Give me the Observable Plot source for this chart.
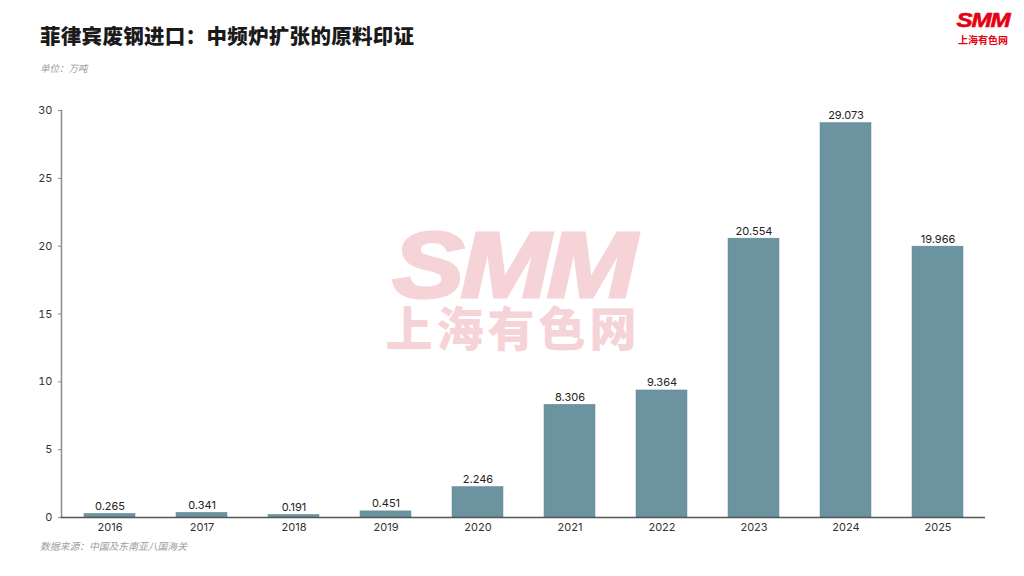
<!DOCTYPE html>
<html>
<head>
<meta charset="utf-8">
<script src="https://cdn.jsdelivr.net/npm/d3@7"></script>
<script src="https://cdn.jsdelivr.net/npm/@observablehq/plot@0.6"></script>
<style>
  html, body { margin: 0; padding: 0; background: #fff; }
  body { width: 1024px; height: 576px; position: relative; overflow: hidden; font-family: Inter, "Noto Sans CJK SC", sans-serif; }
  .title { position: absolute; left: 40px; top: 20px; font-size: 20.5px; font-weight: 900; color: #1a1a1a; font-family: "Noto Sans CJK SC", sans-serif; letter-spacing: 0.3px; }
  .unit { position: absolute; left: 40px; top: 61px; font-size: 9.5px; font-style: italic; color: #9a9a9a; font-family: "Noto Sans CJK SC", sans-serif; }
  .source { position: absolute; left: 40px; top: 539px; font-size: 9.8px; font-style: italic; color: #a0a0a0; font-family: "Noto Sans CJK SC", sans-serif; }
  .logo { position: absolute; left: 952px; width: 62px; text-align: center; color: #e60012; }
  .logo.a { top: 8px; font-family: "Liberation Sans", sans-serif; font-weight: 700; font-style: italic; font-size: 21px; line-height: normal; letter-spacing: -1px; }
  .logo.a span { display: inline-block; transform: scaleX(1.15); -webkit-text-stroke: 0.6px #e60012; }
  .logo.b { top: 32px; font-family: "Noto Sans CJK SC", sans-serif; font-weight: 700; font-size: 10px; line-height: 15px; }
  .wm { position: absolute; left: 380px; top: 228px; width: 266px; text-align: center; color: #f5d3d6; pointer-events: none; }
  .wm .a { display: inline-block; font-family: "Liberation Sans", sans-serif; font-weight: 700; font-style: italic; font-size: 92px; line-height: 74px; transform: scaleX(1.17); letter-spacing: -3px; -webkit-text-stroke: 3px #f5d3d6; }
  .wm .b { display: inline-block; font-family: "Noto Sans CJK SC", sans-serif; font-weight: 900; font-size: 47px; line-height: 48px; letter-spacing: 4px; }
  #chart { position: absolute; left: 0; top: 90px; }
</style>
</head>
<body>
<div class="title">菲律宾废钢进口：中频炉扩张的原料印证</div>
<div class="unit">单位：万吨</div>
<div class="wm"><span class="a">SMM</span><br><span class="b">上海有色网</span></div>
<div id="chart"></div>
<div class="source">数据来源：中国及东南亚八国海关</div>
<div class="logo a"><span>SMM</span></div>
<div class="logo b">上海有色网</div>
<script>
const years = ["2016", "2017", "2018", "2019", "2020", "2021", "2022", "2023", "2024", "2025"];
const imports = [0.265, 0.341, 0.191, 0.451, 2.246, 8.306, 9.364, 20.554, 29.073, 19.966];
const yTicks = [0, 5, 10, 15, 20, 25, 30];

const data = years.map((year, i) => ({year, value: imports[i]}));

const chart = Plot.plot({
  width: 1024,
  height: 460,
  marginLeft: 61,
  marginRight: 39,
  marginTop: 20,
  marginBottom: 33,
  style: {background: "transparent", fontFamily: "Inter, 'Noto Sans CJK SC', sans-serif", fontSize: "11px", color: "#333"},
  x: {type: "band", domain: years, paddingInner: 0.45, paddingOuter: 0.23},
  y: {domain: [0, 30]},
  marks: [
    Plot.frame({anchor: "left", stroke: "#8a8a8a", strokeWidth: 1.5}),
    Plot.axisY({ticks: yTicks, tickSize: 3, tickPadding: 6, label: null, stroke: "#888", fill: "#333", fontSize: 11}),
    Plot.barY(data, {x: "year", y: "value", fill: "#6b93a0", stroke: "#5f8795", strokeWidth: 0.5}),
    Plot.ruleY([0], {stroke: "#555", strokeWidth: 1.3}),
    Plot.axisX({tickSize: 0, tickPadding: 6, label: null, fill: "#333", fontSize: 11}),
    Plot.text(data, {x: "year", y: "value", text: d => d.value.toFixed(3), lineAnchor: "bottom", dy: -4, fill: "#222", fontSize: 11})
  ]
});
document.getElementById("chart").appendChild(chart);
</script>
</body>
</html>
